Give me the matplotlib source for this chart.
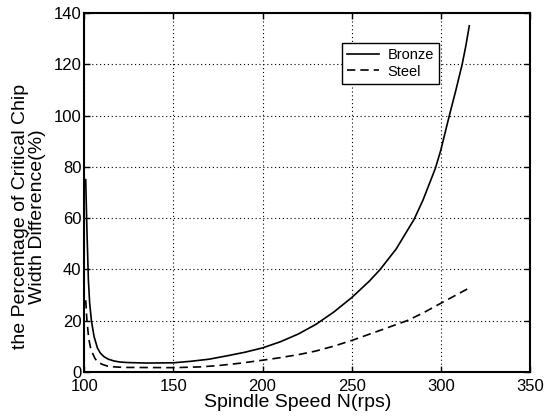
import matplotlib
matplotlib.use("Agg")
import matplotlib.pyplot as plt

plt.rcParams['font.family'] = ['Liberation Sans', 'DejaVu Sans']

# Bronze curve (spindle speed rps, % difference)
bronze_x = [100.8, 101.5, 102.3, 103.0, 104.0, 105.5, 107.4, 109.0, 111.0, 113.5,
            116.7, 120.0, 124.0, 135.0, 150.0, 160.0, 170.0, 180.0, 190.0, 200.0,
            210.0, 220.0, 230.0, 240.0, 250.0, 260.0, 266.0, 275.0, 285.0, 290.0,
            297.0, 300.0, 304.8, 308.5, 312.0, 314.0, 316.0]
bronze_y = [75.0, 55.0, 36.0, 27.0, 20.0, 13.8, 9.3, 7.4, 6.0, 5.0,
            4.3, 3.9, 3.7, 3.5, 3.6, 4.2, 5.0, 6.3, 7.7, 9.4,
            11.8, 14.8, 18.6, 23.4, 29.0, 35.5, 40.0, 48.0, 59.5, 67.0,
            79.5, 86.5, 100.0, 110.0, 120.0, 127.0, 135.0]

# Steel curve
steel_x = [100.8, 101.5, 102.5, 103.5, 104.6, 106.0, 107.4, 110.0, 113.0, 117.0,
           122.0, 150.0, 165.0, 175.0, 187.0, 200.0, 210.0, 221.0, 230.0, 240.0,
           250.0, 265.0, 281.0, 290.0, 300.0, 308.0, 316.0]
steel_y = [28.0, 20.0, 13.0, 9.5, 7.4, 5.3, 4.0, 3.0, 2.3, 2.0,
           1.8, 1.7, 2.0, 2.5, 3.4, 4.6, 5.6, 6.9, 8.2, 10.1,
           12.3, 16.0, 20.0, 23.0, 26.8, 29.8, 32.8]

x_ticks = [100, 150, 200, 250, 300, 350]
y_ticks = [0, 20, 40, 60, 80, 100, 120, 140]

fig = plt.figure(figsize=(5.48, 4.18), dpi=100)
ax = fig.add_axes([0.1538, 0.110, 0.8132, 0.859])

ax.plot(bronze_x, bronze_y, color='black', lw=1.2, ls='-', label='Bronze')
ax.plot(steel_x, steel_y, color='black', lw=1.2, ls=(0, (5, 3)), label='Steel')

ax.set_xlim(100, 350)
ax.set_ylim(0, 140)
ax.set_xticks(x_ticks)
ax.set_yticks(y_ticks)
ax.grid(True, color='black', ls=(0, (1, 2.5)), lw=0.8)
ax.tick_params(direction='in', top=True, right=True, labelsize=12, length=4, width=1)
ax.tick_params(axis='x', pad=5)
ax.tick_params(axis='y', pad=2)
for s in ax.spines.values():
    s.set_linewidth(1.5)

ax.set_xlabel('Spindle Speed N(rps)', fontsize=14)
ax.xaxis.set_label_coords(0.48, -0.061)
ax.set_ylabel('the Percentage of Critical Chip\nWidth Difference(%)', fontsize=14,
              linespacing=1.05)
ax.yaxis.set_label_coords(-0.085, 0.433)

leg = ax.legend(loc='upper left', bbox_to_anchor=(0.5775, 0.9156), fontsize=10.5,
                frameon=True, fancybox=False, edgecolor='black', framealpha=1,
                handlelength=2.2, borderpad=0.35, labelspacing=0.15, handletextpad=0.6,
                borderaxespad=0)
leg.get_frame().set_linewidth(1.0)

fig.savefig('out.png', dpi=100)
